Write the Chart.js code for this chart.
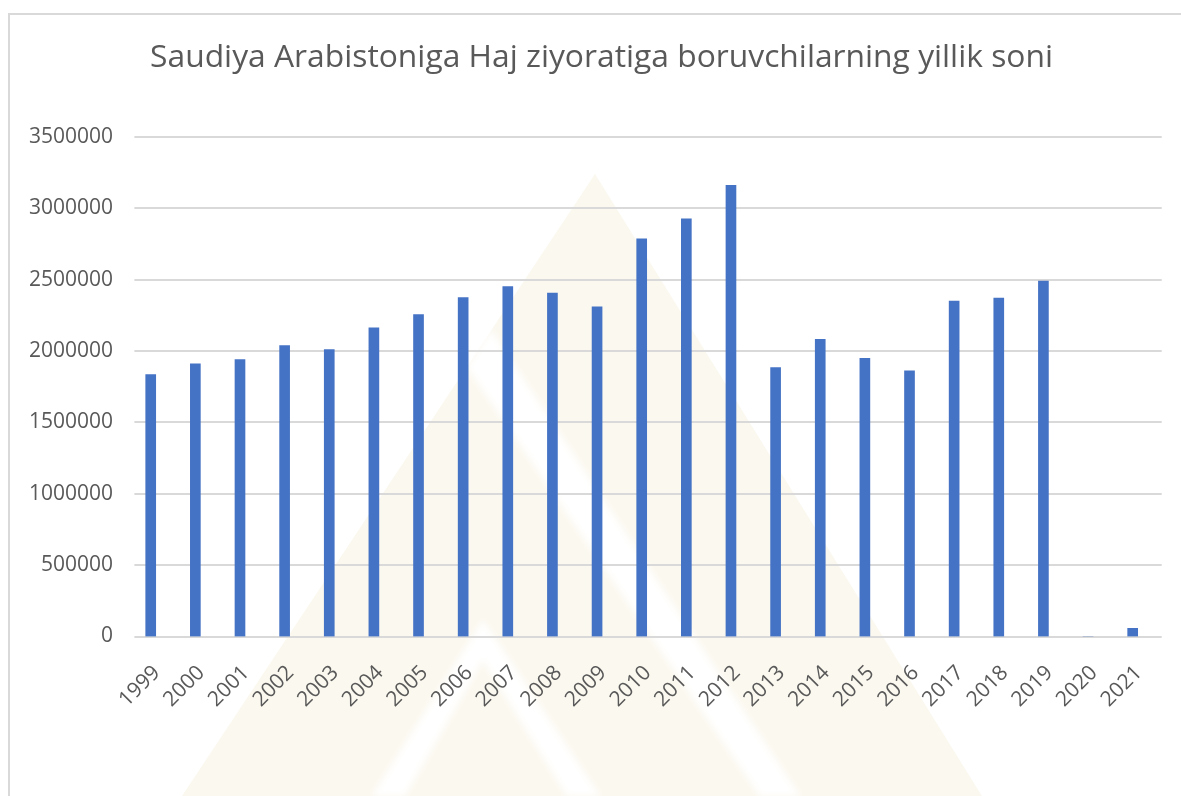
<!DOCTYPE html>
<html>
<head>
<meta charset="utf-8">
<script src="https://cdn.jsdelivr.net/npm/chart.js@4.4.1/dist/chart.umd.min.js"></script>
<style>
  html, body { margin: 0; padding: 0; background: #ffffff; }
  #wrap { position: relative; width: 1181px; height: 796px; overflow: hidden; background: #ffffff; }
  #wm { position: absolute; left: 0; top: 0; }
  #frame { position: absolute; left: 8px; top: 13px; width: 1200px; height: 800px;
           border-top: 2px solid #D9D9D9; border-left: 2px solid #D9D9D9; }
  #c { position: absolute; left: 0; top: 0; }
  #title { position: absolute; left: 22px; width: 1159px; top: 32.7px; text-align: center;
           font-family: "Open Sans", "Noto Sans", sans-serif; font-size: 31.8px; line-height: normal;
           color: #595959; white-space: nowrap; }
</style>
</head>
<body>
<div id="wrap">
  <svg id="wm" width="1181" height="796" xmlns="http://www.w3.org/2000/svg">
    <defs><filter id="soft"><feGaussianBlur stdDeviation="3"/></filter></defs>
    <polygon points="595,174 182,796 982,796" fill="#FBF8EF"/>
    <g fill="#ffffff" filter="url(#soft)">
      <polygon points="467,367 491,330 800,796 760,796"/>
      <polygon points="483,620 600,796 567,796 483,660 405,796 372,796"/>
    </g>
  </svg>
  <div id="frame"></div>
  <canvas id="c" width="1181" height="796"></canvas>
  <div id="title"></div>
</div>
<script>
// ---- data ----
const chartTitle = 'Saudiya Arabistoniga Haj ziyoratiga boruvchilarning yillik soni';
const years = ['1999','2000','2001','2002','2003','2004','2005','2006','2007','2008','2009',
               '2010','2011','2012','2013','2014','2015','2016','2017','2018','2019','2020','2021'];
const pilgrims = [1835500, 1909800, 1940700, 2038900, 2010800, 2162300, 2256300, 2375500,
                  2452700, 2405700, 2309600, 2786600, 2926800, 3161000, 1884500, 2083000,
                  1949800, 1860800, 2349600, 2370600, 2489800, 0, 57000];
const yTickLabels = ['0','500000','1000000','1500000','2000000','2500000','3000000','3500000'];
const yMin = 0, yMax = 3500000, yStep = 500000;

// ---- styles ----
const TEXT = '#595959';
const GRID = '#D9D9D9';
const BAR = '#4472C4';
const FONT = '"Open Sans", "Noto Sans", sans-serif';

document.getElementById('title').textContent = chartTitle;

const gridPlugin = {
  id: 'customGrid',
  beforeDatasetsDraw(chart) {
    const { ctx, chartArea: a, scales: { y } } = chart;
    ctx.save();
    ctx.strokeStyle = GRID;
    ctx.lineWidth = 2;
    y.ticks.forEach(t => {
      const py = Math.round(y.getPixelForValue(t.value));
      ctx.beginPath();
      ctx.moveTo(a.left + 6, py);
      ctx.lineTo(a.right + 6.7, py);
      ctx.stroke();
    });
    ctx.restore();
  }
};

new Chart(document.getElementById('c'), {
  type: 'bar',
  data: {
    labels: years,
    datasets: [{
      data: pilgrims,
      backgroundColor: BAR,
      borderWidth: 0,
      barThickness: 10
    }]
  },
  options: {
    responsive: false,
    animation: false,
    devicePixelRatio: 1,
    layout: { padding: { left: 0, right: 26, top: 137, bottom: 0 } },
    plugins: {
      legend: { display: false },
      tooltip: { enabled: false },
      title: { display: false }
    },
    scales: {
      x: {
        grid: { display: false, drawTicks: false },
        border: { display: false },
        ticks: {
          color: TEXT,
          font: { family: FONT, size: 21 },
          minRotation: 45,
          maxRotation: 45,
          autoSkip: false,
          padding: 24,
          labelOffset: 6
        },
        afterFit(s) { s.height = 159.5; }
      },
      y: {
        min: yMin,
        max: yMax,
        grid: { display: false, drawTicks: false },
        border: { display: false },
        ticks: {
          stepSize: yStep,
          color: TEXT,
          font: { family: FONT, size: 21 },
          padding: 15.4,
          callback: (v, i) => yTickLabels[i]
        },
        afterFit(s) { s.width = 128.4; }
      }
    }
  },
  plugins: [gridPlugin]
});
</script>
</body>
</html>
